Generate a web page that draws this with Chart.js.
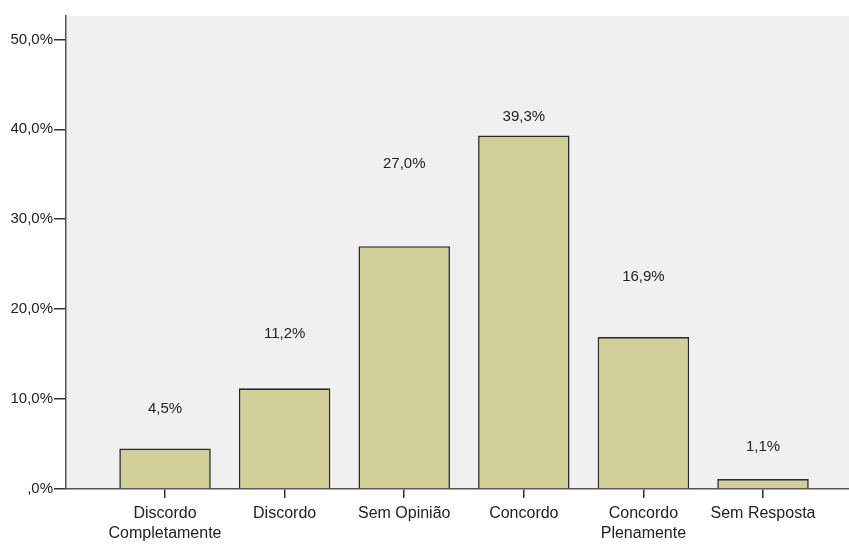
<!DOCTYPE html>
<html>
<head>
<meta charset="utf-8">
<script src="https://cdn.jsdelivr.net/npm/chart.js@4"></script>
<style>
  html,body{margin:0;padding:0;background:#fff;}
  #wrap{width:849px;height:546px;}
</style>
</head>
<body>
<div id="wrap"><canvas id="chart" width="849" height="546"></canvas></div>
<script>
// categorias e percentuais
const categories=[['Discordo','Completamente'],'Discordo','Sem Opinião','Concordo',['Concordo','Plenamente'],'Sem Resposta'];
const percents=[4.5,11.2,27.0,39.3,16.9,1.1];
// altura (em % do eixo) onde cada rótulo aparece no original
const labelAt=[8.9,17.3,36.2,41.4,23.6,4.7];
const yTicks=[0,10,20,30,40,50];

const fontFam='"Liberation Sans", Arial, sans-serif';
const fmt=v=>v===0?',0%':v.toFixed(1).replace('.',',')+'%';

// fundo cinza da área do gráfico
const bgPlugin={
  id:'bg',
  beforeDraw(chart){
    const {ctx,chartArea:a}=chart;
    ctx.save();
    ctx.fillStyle='#f0f0f0';
    ctx.fillRect(a.left,a.top,a.right-a.left,a.bottom-a.top);
    ctx.restore();
  }
};

// rótulos de valor acima das barras
const labelPlugin={
  id:'vals',
  afterDatasetsDraw(chart){
    const {ctx}=chart;
    const meta=chart.getDatasetMeta(0);
    const y=chart.scales.y;
    ctx.save();
    ctx.font='15px '+fontFam;
    ctx.fillStyle='#222';
    ctx.textAlign='center';
    ctx.textBaseline='middle';
    meta.data.forEach((bar,i)=>{
      ctx.fillText(fmt(percents[i]),bar.x,y.getPixelForValue(labelAt[i]));
    });
    ctx.restore();
  }
};

new Chart(document.getElementById('chart'),{
  type:'bar',
  data:{
    datasets:[{
      data:percents.map((v,i)=>({x:i,y:v})),
      backgroundColor:'#d3cf98',
      borderColor:'#2a2a2a',
      borderWidth:1.6,
      barPercentage:0.765,
      categoryPercentage:1
    }]
  },
  options:{
    responsive:false,
    animation:false,
    layout:{padding:{top:16,right:0,left:0,bottom:0}},
    plugins:{legend:{display:false},tooltip:{enabled:false}},
    scales:{
      x:{
        type:'linear',
        offset:false,
        min:-0.828,max:5.719,
        afterFit(s){s.height=57;},
        grid:{display:true,offset:false,drawOnChartArea:false,tickLength:9,color:'#333',lineWidth:1.5},
        border:{color:'#555',width:1.5},
        ticks:{
          stepSize:1,includeBounds:false,autoSkip:false,maxRotation:0,padding:6,
          color:'#222',font:{family:fontFam,size:16,lineHeight:1.25},
          callback:v=>Number.isInteger(v)&&categories[v]!==undefined?categories[v]:''
        }
      },
      y:{
        min:0,max:52.6,
        afterFit(s){s.width=66;},
        afterBuildTicks(s){s.ticks=yTicks.map(v=>({value:v}));},
        grid:{display:true,drawOnChartArea:false,tickLength:12,color:'#333',lineWidth:1.5},
        border:{color:'#555',width:1.5},
        ticks:{
          padding:1,color:'#222',font:{family:fontFam,size:15},
          callback:v=>fmt(v)
        }
      }
    }
  },
  plugins:[bgPlugin,labelPlugin]
});
</script>
</body>
</html>
